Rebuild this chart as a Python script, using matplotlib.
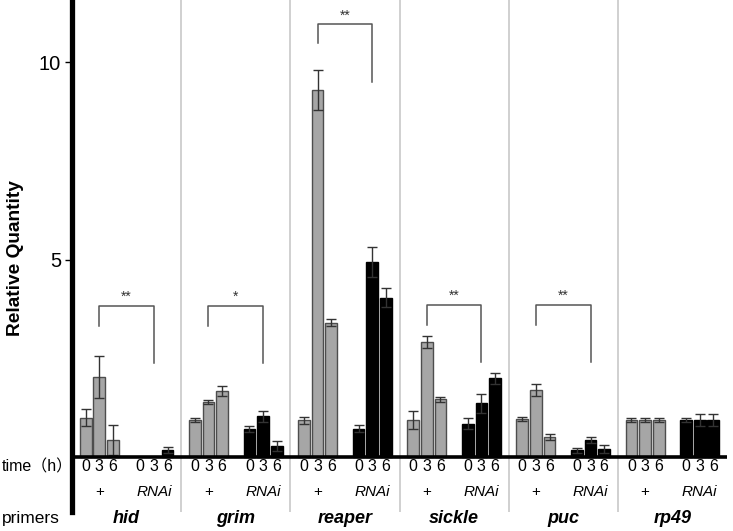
import numpy as np
import matplotlib
matplotlib.use('Agg')
import matplotlib.pyplot as plt

plt.rcParams['font.family'] = ['Liberation Sans', 'Noto Sans CJK JP', 'DejaVu Sans']

genes = ['hid', 'grim', 'reaper', 'sickle', 'puc', 'rp49']
times = ['0', '3', '6']

# relative quantity, control (+) and RNAi, at 0/3/6 h
ctrl_vals = [[1.00, 2.03, 0.43],
             [0.94, 1.39, 1.67],
             [0.93, 9.29, 3.40],
             [0.94, 2.92, 1.46],
             [0.96, 1.69, 0.51],
             [0.94, 0.94, 0.94]]
ctrl_err = [[0.22, 0.53, 0.38],
            [0.05, 0.05, 0.13],
            [0.09, 0.51, 0.09],
            [0.23, 0.15, 0.06],
            [0.05, 0.15, 0.08],
            [0.05, 0.05, 0.05]]
rnai_vals = [[0.00, 0.00, 0.18],
             [0.71, 1.03, 0.28],
             [0.72, 4.94, 4.03],
             [0.85, 1.36, 1.99],
             [0.17, 0.43, 0.21],
             [0.93, 0.94, 0.94]]
rnai_err = [[0.00, 0.00, 0.08],
            [0.08, 0.13, 0.12],
            [0.08, 0.38, 0.24],
            [0.13, 0.24, 0.15],
            [0.06, 0.08, 0.10],
            [0.05, 0.15, 0.15]]

# significance brackets: (top, left leg end, right leg end, label)
brackets = [(3.82, 3.32, 2.37, '**'),
            (3.82, 3.32, 2.37, '*'),
            (10.95, 10.47, 9.50, '**'),
            (3.85, 3.35, 2.40, '**'),
            (3.85, 3.35, 2.40, '**'),
            None]

W, H = 733, 531
fig = plt.figure(figsize=(W / 100, H / 100), dpi=100)
ax = fig.add_axes([72 / W, (H - 512) / H, 655 / W, 512 / H])

group_w = 8
ctrl_pos = np.array([1, 2, 3])
rnai_pos = np.array([5, 6, 7])
bw = 0.86

for g, gene in enumerate(genes):
    x0 = g * group_w
    xc = x0 + ctrl_pos
    xr = x0 + rnai_pos
    ax.bar(xc, ctrl_vals[g], bw, color='#a6a6a6', edgecolor='#4d4d4d', linewidth=1.0, zorder=2)
    ax.errorbar(xc, ctrl_vals[g], yerr=ctrl_err[g], fmt='none', ecolor='#333333',
                elinewidth=1.0, capsize=3.5, capthick=1.0, zorder=3)
    rv = np.array(rnai_vals[g])
    re = np.array(rnai_err[g])
    m = rv > 0
    ax.bar(xr[m], rv[m], bw, color='black', edgecolor='black', linewidth=1.0, zorder=2)
    ax.errorbar(xr[m], rv[m], yerr=re[m], fmt='none', ecolor='#333333',
                elinewidth=1.0, capsize=3.5, capthick=1.0, zorder=3)

    for x, t in zip(list(xc) + list(xr), times * 2):
        ax.text(x, -0.25, t, ha='center', va='center', fontsize=11.5, clip_on=False)
    ax.text(x0 + 2, -0.88, '+', ha='center', va='center', fontsize=11, clip_on=False)
    ax.text(x0 + 6, -0.88, 'RNAi', ha='center', va='center', fontsize=11,
            style='italic', clip_on=False)
    ax.text(x0 + 4, -1.55, gene, ha='center', va='center', fontsize=13,
            style='italic', fontweight='bold', clip_on=False)

    if g > 0:
        ax.axvline(x0, color='#c8c8c8', linewidth=1.2, zorder=1)

    b = brackets[g]
    if b is not None:
        top, lb, rb, lab = b
        ax.plot([x0 + 2, x0 + 2, x0 + 6, x0 + 6], [lb, top, top, rb],
                color='#555555', linewidth=1.1, zorder=3)
        ax.text(x0 + 4, top + 0.05, lab, ha='center', va='bottom', fontsize=10,
                color='#333333')

ax.axhline(0, color='black', linewidth=2.6, zorder=4)

ax.set_xlim(0, 6 * group_w)
ax.set_ylim(-1.39, 11.57)
ax.set_yticks([5, 10])
ax.set_yticklabels(['5', '10'], fontsize=14.5)
ax.set_xticks([])
ax.tick_params(axis='y', direction='out', length=5, width=1, pad=3)
for s in ['top', 'right', 'bottom']:
    ax.spines[s].set_visible(False)
ax.spines['left'].set_linewidth(3.8)

fig.text(16 / W, 1 - 258 / H, 'Relative Quantity', rotation=90, ha='center', va='center',
         fontsize=13.8, fontweight='bold')
fig.text(2 / W, 1 - 467 / H, 'time（h）', ha='left', va='center', fontsize=11.5)
fig.text(2 / W, 1 - 518 / H, 'primers', ha='left', va='center', fontsize=12.5)

fig.savefig('out.png', dpi=100)
